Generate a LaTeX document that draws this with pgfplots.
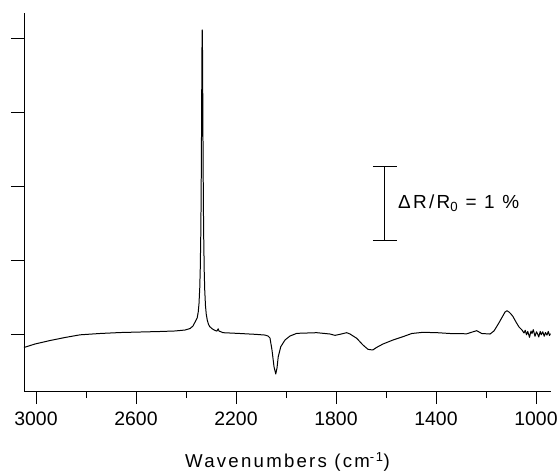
\documentclass[border=0pt]{standalone}
\usepackage{pgfplots}
\pgfplotsset{compat=1.18}
\usepackage{fontspec}
\setmainfont{Liberation Sans}
\newfontfamily\spaced[LetterSpace=12]{Liberation Sans}
\begin{document}
\begin{tikzpicture}
\path[use as bounding box] (0,0) rectangle (558bp,474bp);
\begin{axis}[
  at={(24bp,83bp)}, anchor=south west,
  scale only axis, width=527bp, height=378bp,
  x dir=reverse,
  xmin=940, xmax=3048,
  ymin=-0.770, ymax=4.338,
  axis x line=bottom, axis y line=left,
  axis line style={-, line width=0.9pt},
  tick align=outside,
  major tick length=13bp, minor tick length=7bp,
  every tick/.style={black, line width=0.8pt},
  xtick={1000,1400,1800,2200,2600,3000},
  minor xtick={1200,1600,2000,2400,2800},
  ytick={0,1,2,3,4},
  yticklabels={},
  /pgf/number format/assume math mode=true,
  /pgf/number format/set thousands separator={},
  xticklabel style={font=\fontsize{19.5}{22}\selectfont, yshift=-4bp},
  xlabel={\spaced\fontsize{18.7}{22}\selectfont Wavenumbers (cm\textsuperscript{-1})},
  xlabel style={at={(axis description cs:0.5,0)}, anchor=center, yshift=-71bp},
  clip=false,
]
\addplot[black, line width=1.0pt, line join=round] coordinates {
(3048,-0.182) (3004,-0.135) (2944,-0.088) (2884,-0.047) (2824,-0.011)
(2744,0.007) (2664,0.020) (2584,0.027) (2504,0.034) (2444,0.041)
(2404,0.054) (2384,0.074) (2372,0.108) (2364,0.16) (2355,0.22)
(2351,0.30) (2348,0.41) (2345,0.62) (2343,0.87) (2341,1.31)
(2340,1.64) (2339,2.09) (2338,2.65) (2337,3.30) (2336,3.87)
(2335,4.11) (2334,3.85) (2333,3.27) (2332,2.62) (2331,2.06)
(2330,1.60) (2329,1.28) (2327,0.84) (2325,0.59) (2322,0.38)
(2319,0.27) (2315,0.19) (2310,0.13) (2305,0.10) (2295,0.07)
(2285,0.05) (2276,0.04) (2273,0.06) (2271,0.07) (2268,0.04)
(2260,0.03) (2252,0.018) (2184,0.007) (2124,-0.004) (2084,-0.014)
(2072,-0.027) (2064,-0.054) (2056,-0.216) (2048,-0.44) (2041,-0.54)
(2036,-0.46) (2031,-0.307) (2021,-0.172) (2004,-0.081) (1984,-0.027)
(1957,0.009) (1877,0.018) (1824,0.0) (1804,-0.018) (1784,-0.004)
(1757,0.018) (1744,0.0) (1717,-0.058) (1692,-0.149) (1672,-0.207)
(1653,-0.216) (1637,-0.18) (1612,-0.135) (1572,-0.081) (1532,-0.036)
(1497,0.007) (1452,0.023) (1396,0.018) (1344,0.007) (1277,0.003)
(1251,0.031) (1237,0.045) (1217,0.007) (1184,0.0) (1168,0.041)
(1151,0.135) (1134,0.236) (1124,0.297) (1116,0.315) (1108,0.297)
(1100,0.27) (1092,0.236) (1080,0.162) (1068,0.095) (1056,0.054)
(1048,0.014) (1043,0.050) (1038,-0.010) (1033,0.035) (1026,-0.045)
(1020,0.040) (1016,0.005) (1011,0.060) (1004,-0.030) (998,0.030)
(994,0.005) (989,-0.040) (983,0.035) (979,-0.010) (973,0.030)
(967,-0.030) (962,0.020) (956,-0.015) (951,0.035) (946,-0.020) (942,0.005)
};
\draw[black, line width=0.9pt] (axis cs:1607,1.26) -- (axis cs:1607,2.27);
\draw[black, line width=0.9pt] (axis cs:1652,2.27) -- (axis cs:1556,2.27);
\draw[black, line width=0.9pt] (axis cs:1652,1.26) -- (axis cs:1556,1.26);
\node[anchor=west, inner sep=0pt, font=\spaced\fontsize{19}{22}\selectfont] at (axis cs:1552,1.77) {ΔR/R\textsubscript{0} = 1 \%};
\end{axis}
\end{tikzpicture}
\end{document}
